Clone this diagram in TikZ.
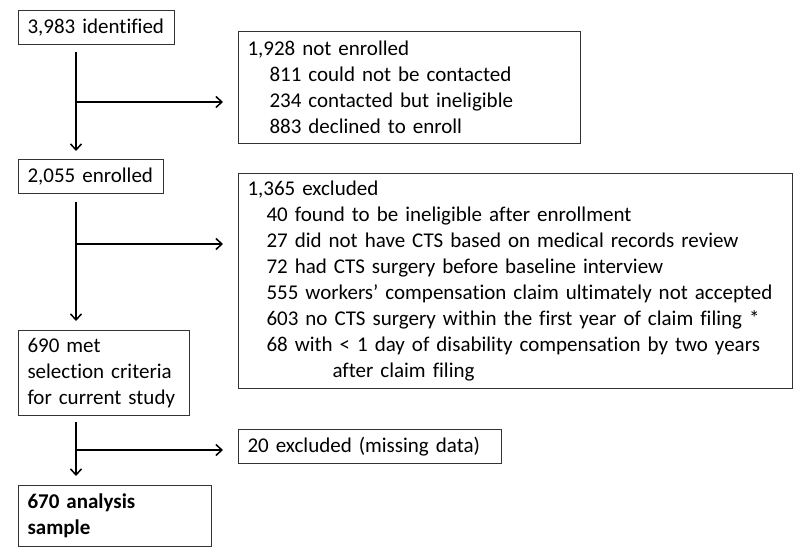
\documentclass[tikz,border=0pt]{standalone}
\usepackage{fontspec}
\setmainfont[Ligatures=NoCommon]{Carlito}
\usetikzlibrary{arrows.meta}
\begin{document}
\begin{tikzpicture}[x=1pt,y=-1pt,
  box/.style={draw=black!80, line width=1pt, anchor=north west, inner xsep=9pt, inner ysep=0pt,
    align=left, font=\fontsize{21}{26}\selectfont, text=black},
  flow/.style={line width=1.5pt, -{Straight Barb[length=6pt,width=11pt,line width=1.5pt]}}]
\useasboundingbox (0,0) rectangle (800,556);
\fill[white] (0,0) rectangle (800,556);
% boxes
\node[box, minimum width=156pt, minimum height=34pt, text width=138pt] (ident) at (18,10) {3,983 identified};
\node[box, minimum width=342pt, minimum height=112pt, text width=324pt] (notenr) at (238,31)
  {1,928 not enrolled\\
   \hspace*{22pt}811 could not be contacted\\
   \hspace*{22pt}234 contacted but ineligible\\
   \hspace*{22pt}883 declined to enroll};
\node[box, minimum width=145pt, minimum height=34pt, text width=127pt] (enr) at (18,159) {2,055 enrolled};
\node[box, minimum width=554pt, minimum height=215pt, text width=536pt] (excl) at (238,173)
  {1,365 excluded\\
   \hspace*{19pt}40 found to be ineligible after enrollment\\
   \hspace*{19pt}27 did not have CTS based on medical records review\\
   \hspace*{19pt}72 had CTS surgery before baseline interview\\
   \hspace*{19pt}555 workers’ compensation claim ultimately not accepted\\
   \hspace*{19pt}603 no CTS surgery within the first year of claim filing *\\
   \hspace*{19pt}68 with < 1 day of disability compensation by two years\\
   \hspace*{85pt}after claim filing};
\node[box, minimum width=171pt, minimum height=85pt, text width=153pt] (met) at (18,330)
  {690 met\\selection criteria\\for current study};
\node[box, minimum width=263pt, minimum height=34pt, text width=245pt] (miss) at (238,429) {20 excluded (missing data)};
\node[box, minimum width=193pt, minimum height=61pt, text width=175pt, font=\fontsize{21}{26}\selectfont\bfseries] (final) at (18,485)
  {670 analysis\\sample};
% connector anchors
\coordinate (c1) at (76,52);
\coordinate (j1) at (76,102);
\coordinate (c2) at (76,202);
\coordinate (j2) at (76,244);
\coordinate (c3) at (76,422);
\coordinate (j3) at (76,450);
% vertical arrows
\draw[flow, shorten >=8pt] (c1) -- (c1 |- enr.north);
\draw[flow, shorten >=9pt] (c2) -- (c2 |- met.north);
\draw[flow, shorten >=9pt] (c3) -- (c3 |- final.north);
% side arrows
\draw[flow, shorten >=15pt] (j1) -- (j1 -| notenr.west);
\draw[flow, shorten >=15pt] (j2) -- (j2 -| excl.west);
\draw[flow, shorten >=15pt] (j3) -- (j3 -| miss.west);
\end{tikzpicture}
\end{document}
